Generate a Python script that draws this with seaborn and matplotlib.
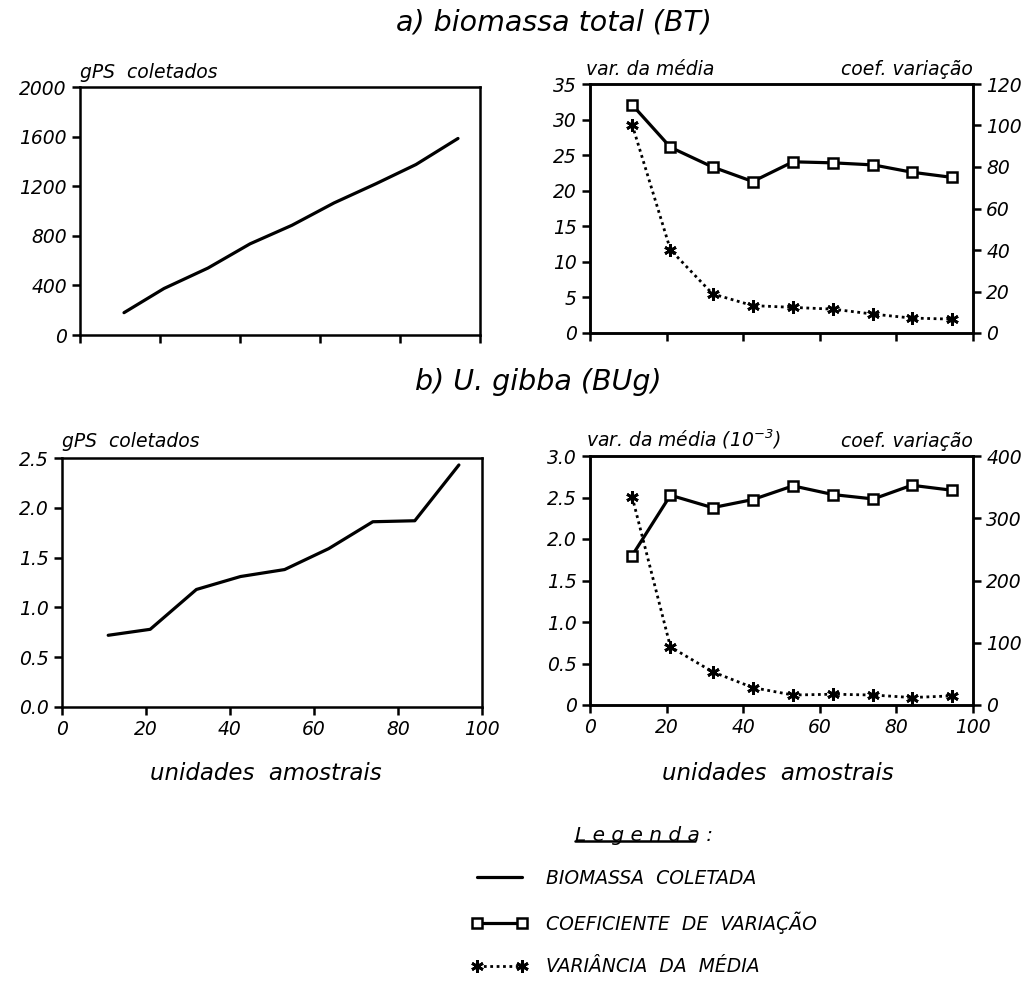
import matplotlib
matplotlib.use("Agg")
import matplotlib.pyplot as plt
from matplotlib.lines import Line2D
import seaborn as sns
import pandas as pd

# sample units (x) shared by all panels
unidades = [11, 21, 32, 42.5, 53, 63.5, 74, 84, 94.5]

# a) biomassa total
bt_coletados = [180, 375, 540, 735, 885, 1065, 1220, 1375, 1585]
bt_coef_var = [110, 89.5, 80, 73, 82.5, 82, 81, 77.5, 75]
bt_var_media = [29.3, 11.7, 5.5, 3.85, 3.6, 3.35, 2.65, 2.1, 1.95]

# b) U. gibba
ug_coletados = [0.72, 0.78, 1.18, 1.31, 1.38, 1.59, 1.86, 1.87, 2.43]
ug_coef_var = [240, 337, 317, 330, 352, 338, 331, 353, 345]
ug_var_media = [2.51, 0.70, 0.40, 0.21, 0.12, 0.13, 0.12, 0.09, 0.11]

legend_labels = ["BIOMASSA  COLETADA", "COEFICIENTE  DE  VARIAÇÃO", "VARIÂNCIA  DA  MÉDIA"]

sns.set_style("ticks")
plt.rcParams["font.family"] = ["DejaVu Sans"]
plt.rcParams["font.style"] = "italic"
plt.rcParams["mathtext.fontset"] = "dejavusans"
plt.rcParams["mathtext.default"] = "it"
for k in ["text.color", "axes.labelcolor", "xtick.color", "ytick.color", "axes.edgecolor"]:
    plt.rcParams[k] = "black"
plt.rcParams["axes.linewidth"] = 1.8
plt.rcParams["xtick.major.width"] = 1.8
plt.rcParams["ytick.major.width"] = 1.8
plt.rcParams["xtick.major.size"] = 6
plt.rcParams["ytick.major.size"] = 6
plt.rcParams["xtick.labelsize"] = 13.5
plt.rcParams["ytick.labelsize"] = 13.5

df_bt = pd.DataFrame({"x": unidades, "col": bt_coletados, "cv": bt_coef_var, "var": bt_var_media})
df_ug = pd.DataFrame({"x": unidades, "col": ug_coletados, "cv": ug_coef_var, "var": ug_var_media})

W, H = 1031, 986
fig = plt.figure(figsize=(W / 100, H / 100), dpi=100)

def box(l, t, r, b):
    return [l / W, 1 - b / H, (r - l) / W, (b - t) / H]

ax_tl = fig.add_axes(box(80, 87, 480, 335))
ax_tr = fig.add_axes(box(590, 84, 973, 333))
ax_bl = fig.add_axes(box(62, 458, 482, 707))
ax_br = fig.add_axes(box(590, 456, 973, 705))

line_kw = dict(color="black", linewidth=2.3)
sq_kw = dict(marker="s", markersize=6.5, markerfacecolor="white",
             markeredgecolor="black", markeredgewidth=1.8, color="black", linewidth=2.3)
ast_kw = dict(marker=(6, 2, 0), markersize=9, markeredgecolor="black",
              markeredgewidth=2.0, color="black", linewidth=2.0, linestyle=(0, (1, 1.3)))

# left panels: collected biomass
sns.lineplot(data=df_bt, x="x", y="col", ax=ax_tl, **line_kw)
sns.lineplot(data=df_ug, x="x", y="col", ax=ax_bl, **line_kw)

# right panels: variance (left axis) and CV (right axis)
tw_tr = ax_tr.twinx()
tw_br = ax_br.twinx()
sns.lineplot(data=df_bt, x="x", y="var", ax=ax_tr, **ast_kw)
sns.lineplot(data=df_bt, x="x", y="cv", ax=tw_tr, **sq_kw)
sns.lineplot(data=df_ug, x="x", y="var", ax=ax_br, **ast_kw)
sns.lineplot(data=df_ug, x="x", y="cv", ax=tw_br, **sq_kw)

for ax in [ax_tl, ax_tr, ax_bl, ax_br, tw_tr, tw_br]:
    ax.set_xlim(0, 100)
    ax.set_xticks(range(0, 101, 20))
    ax.set_xlabel("")
    ax.set_ylabel("")
    for s in ax.spines.values():
        s.set_visible(True)
        s.set_linewidth(1.8)
        s.set_color("black")

ax_tl.set_ylim(0, 2000)
ax_tl.set_yticks(range(0, 2001, 400))
ax_tr.set_ylim(0, 35)
ax_tr.set_yticks(range(0, 36, 5))
tw_tr.set_ylim(0, 120)
tw_tr.set_yticks(range(0, 121, 20))
ax_bl.set_ylim(0, 2.5)
ax_bl.set_yticks([0, 0.5, 1.0, 1.5, 2.0, 2.5])
ax_bl.set_yticklabels(["0.0", "0.5", "1.0", "1.5", "2.0", "2.5"])
ax_br.set_ylim(0, 3.0)
ax_br.set_yticks([0, 0.5, 1.0, 1.5, 2.0, 2.5, 3.0])
ax_br.set_yticklabels(["0", "0.5", "1.0", "1.5", "2.0", "2.5", "3.0"])
tw_br.set_ylim(0, 400)
tw_br.set_yticks(range(0, 401, 100))

ax_tl.tick_params(labelbottom=False)
ax_tr.tick_params(labelbottom=False)

lab = dict(fontsize=13.5, va="bottom")
ax_tl.text(0, 1.02, "gPS  coletados", transform=ax_tl.transAxes, ha="left", **lab)
ax_bl.text(0, 1.03, "gPS  coletados", transform=ax_bl.transAxes, ha="left", **lab)
ax_tr.text(-0.01, 1.02, "var. da média", transform=ax_tr.transAxes, ha="left", **lab)
ax_tr.text(1.0, 1.02, "coef. variação", transform=ax_tr.transAxes, ha="right", **lab)
ax_br.text(-0.01, 1.02, "var. da média (10$^{-3}$)", transform=ax_br.transAxes, ha="left", **lab)
ax_br.text(1.0, 1.02, "coef. variação", transform=ax_br.transAxes, ha="right", **lab)

fig.text(554 / W, 1 - 22 / H, "a) biomassa total (BT)", fontsize=20.5, ha="center", va="center")
fig.text(538 / W, 1 - 382 / H, "b) U. gibba (BUg)", fontsize=20.5, ha="center", va="center")
fig.text(266 / W, 1 - 773 / H, "unidades  amostrais", fontsize=16.5, ha="center", va="center")
fig.text(778 / W, 1 - 773 / H, "unidades  amostrais", fontsize=16.5, ha="center", va="center")

handles = [ax_tl.lines[0], tw_tr.lines[0], ax_tr.lines[0]]
leg = fig.legend(handles, legend_labels, loc="upper left",
                 bbox_to_anchor=(462 / W, 1 - 817 / H), frameon=False,
                 fontsize=13.5, numpoints=2, handlelength=3.0, handletextpad=1.0,
                 labelspacing=1.25, borderpad=0,
                 title="L e g e n d a :", title_fontsize=14.5)

# underline the word "Legenda" in the legend title
fig.canvas.draw()
bb = leg.get_title().get_window_extent()
x0, x1 = bb.x0 / W, (bb.x0 + (bb.x1 - bb.x0) * 0.87) / W
yl = (bb.y0 + 4) / H
fig.add_artist(Line2D([x0, x1], [yl, yl], color="black", linewidth=1.8,
                      transform=fig.transFigure))

fig.savefig("out.png", dpi=100)
